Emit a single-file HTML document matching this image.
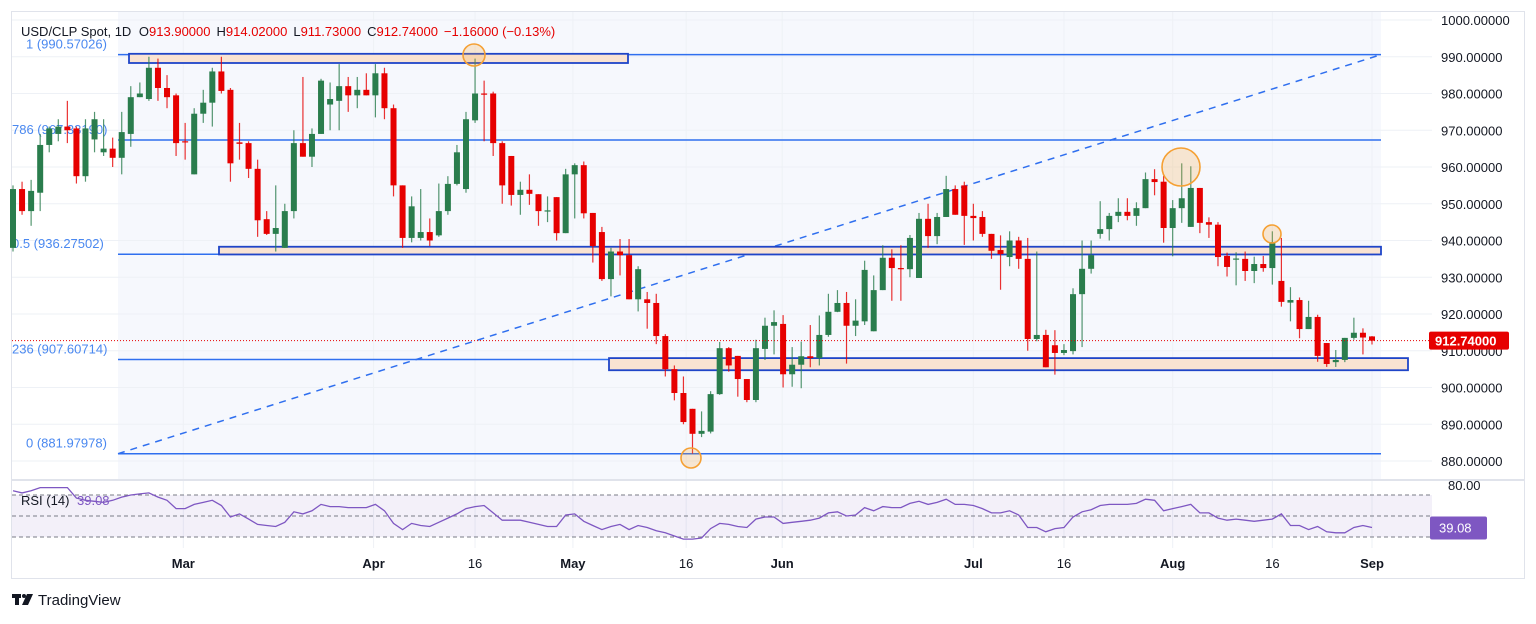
<!DOCTYPE html>
<html>
<head>
<meta charset="utf-8">
<style>
  html,body{margin:0;padding:0;background:#fff;}
  body{width:1536px;height:619px;overflow:hidden;font-family:"Liberation Sans",sans-serif;}
  svg text{font-family:"Liberation Sans",sans-serif;}
</style>
</head>
<body>
<svg id="chart" width="1536" height="619" xmlns="http://www.w3.org/2000/svg">
  <rect x="11.5" y="11.5" width="1513" height="567" fill="#fff" stroke="#e0e3eb"/>
  <rect x="118" y="12" width="1263" height="467" fill="#f6f8fd"/>
  <g id="grid"></g>
  <g id="fib"></g>
  <g id="zones"></g>
  <g id="candles"></g>
  <g id="marks"></g>
  <g id="axis"></g>
  <g id="rsi"></g>
  <g id="xaxis"></g>
  <text x="21" y="36" font-size="13" fill="#131722">USD/CLP Spot, 1D <tspan dx="4">O</tspan><tspan fill="#e60000">913.90000</tspan><tspan dx="6">H</tspan><tspan fill="#e60000">914.02000</tspan><tspan dx="6">L</tspan><tspan fill="#e60000">911.73000</tspan><tspan dx="6">C</tspan><tspan fill="#e60000">912.74000</tspan><tspan dx="6" fill="#e60000">−1.16000 (−0.13%)</tspan></text>
  <g>
    <rect x="12" y="594" width="9" height="4" fill="#131722"/>
    <rect x="15" y="594" width="4" height="11" fill="#131722"/>
    <circle cx="24" cy="596" r="2" fill="#131722"/>
    <polygon points="27,594 33,594 28,605 22,605" fill="#131722"/>
    <text x="38" y="605" font-size="15" fill="#131722">TradingView</text>
  </g>
</svg>
<script>
const opens=[938,954,948,953,966,969,971,970.5,957.5,967.5,964,965,962.5,969,979,978.5,987,981.5,979.5,967,958,974.5,977.5,986,981,966.7,966.5,959.5,945.8,941.8,938,948,966.5,962.8,969,977,978,982,979.5,981,979.5,985.5,976,955,940.7,940.7,942.3,941.4,948,955.4,954,972.7,980,980,966.5,963,952.4,953.8,952.6,948,951.8,942,958,960.5,947.5,942.3,929.5,937,936,924,924,923,914,905,898.5,894.2,887.4,888,898.2,910.7,908.6,902.3,896.6,910.5,916.8,917.3,903.6,906.2,908.5,908,914.3,920.6,923,916.8,918,915.3,926.5,935.3,932.5,932.2,929.8,945.9,941.2,946.4,954,955,946.7,946.4,941.8,937.4,935.5,940,935,913.2,914.3,911.5,909.4,909.9,925.4,932.3,941.8,943.1,946.7,947.8,946.7,948.8,956.7,956,943.4,948.8,943.7,954.3,945,944.3,935.8,935,935,931.7,933.6,932.5,929,923.1,923.8,915.9,919.2,912.1,906.9,907.5,913.5,914.9,913.9];
const highs=[955,956,956.5,969,971,973,978,971,973,975,973,968,975,982,983,990,989.5,985,980,972,976,981,987,990,981.5,972,967,962,948,955,950,970,984.5,970.5,984,983,988,984.5,984.5,985.5,988,987,977,955,952,954,946,955.5,957.5,966,975,989.5,983.5,980.5,967,963,956,958,952.6,952,951.8,959.5,961,961.5,947.5,943.7,938,940.4,940.4,933,926,925.5,914.5,906,903,894.2,893.5,899,912.4,911,908.6,902.3,913,919,921,919.7,911,912.5,917,919.6,925.5,926.5,926,924,934.5,930.5,938.7,937.6,938.7,941.5,947.5,950,947.5,957.6,955,956,950,948,941.8,941.4,942.5,941,940.7,937,915.7,915.6,911.8,927,940,940,950.7,947.5,951.5,951.5,950.4,958.5,959.4,957.6,951,961,960.2,954.3,946.3,945,936.7,936.8,937,935.6,935.8,942.5,940.7,927.3,924.5,923.6,919.8,912.1,910.2,913.5,919,916.1,914];
const lows=[937,947,944,948,964,967,966.5,955.5,956,964,963,960,958,965.5,979,978,978,976,963,962,958,972,971,980,956,962,957,941,941.5,937,938,946,962.8,960,969,970,970,975,976,979.5,973.5,973,952,938,939.5,940,938.5,941,947,955,953,972,967,963,950,949.5,947,949.7,944,945,940,942,946,946,934,929,924.8,930.5,924,920.7,916,911.8,903,896.5,890,882,886.5,887.5,898,904.3,897.5,896,896,907.5,909,900,900.2,899.8,905.5,906,913.8,920.5,906.5,914,917,915.3,926.5,923.6,923.6,930,929.8,938,939,946.4,947,938.8,940,941,935,926.6,933,932.3,910,912.6,905.5,903.5,908.8,909,911,931,940.5,940,945,945.5,944,948.8,952.3,939.4,935.7,944.8,943.7,942,940.7,933,930.2,927.8,929,928.4,931.5,928,922,918,913.4,915.9,907,905.6,905.6,906.9,913,909,911.7];
const closes=[954,948,953.5,966,970.5,971,970,957.5,970.5,973,965,962.5,969.5,979,980,987,981.5,979,966.5,966.7,974.5,977.5,986,980.7,961,966.3,959.5,945.5,941.8,943.4,948,966.5,962.8,969,983.5,978.5,982,979.5,981,979.5,985.5,976,955,940.7,949.3,942.3,940,948,955.4,964,973,980,979.8,966.5,955,952.4,953.8,952.7,948,948.2,942,958,960.5,947.4,938.5,929.5,937,936,924,932.2,923,914,905,898.5,890.6,887.4,888.2,898.2,910.7,906,902.3,896.6,910.7,916.8,917.8,903.6,906.2,908.5,908,914.3,920.6,923,916.8,918.2,932,926.5,935.3,932.5,932.3,940.7,945.9,941.2,946.4,954,947,946.7,946.1,941.8,937.2,936.3,940,935,913.2,914.3,905.5,909.4,910.2,925.4,932.3,936,943.1,946.7,947.8,946.7,948.8,956.7,955.9,943.4,948.8,951.5,954.3,944.8,944.3,935.5,932.8,935.1,931.7,933.6,932.5,939.6,923.3,923.8,915.9,919.2,908.6,906.4,907.5,913.5,914.9,913.6,912.74];
const rsiValues=[74,72,74,77,77,77,77,67,65,64,63,65,68,70,71,72,68,65,57,57,61,63,65,60,49,52,47,42,41,40,44,54,52,55,61,59,59,58,58,58,61,55,43,37,43,41,40,44,48,52,57,59,60,53,46,46,46,44,42,40,40,51,52,45,41,37,40,42,37,41,39,36,34,31,28,28,29,38,43,42,40,39,47,49,49,43,44,45,46,48,53,54,50,51,58,55,59,58,58,62,64,61,63,66,61,61,60,57,53,53,55,51,39,39,35,38,39,49,54,56,60,61,61,61,62,66,65,55,57,59,61,53,53,48,46,47,46,45,46,47,52,41,41,37,40,35,34,34,39,41,39];
const priceTicks=[1000,990,980,970,960,950,940,930,920,910,900,890,880];
const timeLabels=['Mar','Apr','16','May','16','Jun','Jul','16','Aug','16','Sep'];
const timeIdx=[18.8,39.8,51,61.8,74.3,84.9,106,116,128,139,150];
const timeBold=[true,true,false,true,false,true,true,false,true,false,true];
const fibLevels=[1,0.786,0.5,0.236,0];
const fibPrices=[990.57026,967.3319,936.27502,907.60714,881.97978];
const fibText=['1 (990.57026)','786 (967.33190)','0.5 (936.27502)','236 (907.60714)','0 (881.97978)'];
const lastPrice=912.74;
const lastRsi=39.08;

const NS='http://www.w3.org/2000/svg';
function yP(p){return 20+(1000-p)*3.675;}
function xI(i){return 13+i*9.06;}
function yR(r){return 516-(r-50)*1.05;}
function mk(tag,attrs,parent){const e=document.createElementNS(NS,tag);for(const k in attrs)e.setAttribute(k,attrs[k]);parent.appendChild(e);return e;}

const grid=document.getElementById('grid');
priceTicks.forEach(p=>{
  const l=mk('line',{x1:12,x2:1432,y1:yP(p),y2:yP(p),stroke:'#eef1f6','stroke-width':1},grid);
  
  
});
timeIdx.forEach(i=>{
  const l=mk('line',{x1:xI(i),x2:xI(i),y1:12,y2:548,stroke:'#eef1f6','stroke-width':1},grid);
  
  
});
const sep=mk('line',{x1:12,x2:1524,y1:480,y2:480,stroke:'#e0e3eb','stroke-width':2},grid);



const fib=document.getElementById('fib');
fibPrices.forEach((p,k)=>{
  const l=mk('line',{x1:118,x2:1381,y1:yP(p),y2:yP(p),stroke:'#2f6fef','stroke-width':1.5},fib);
  
  
  const t=mk('text',{x:(k===0||k===4)?26:12,y:yP(p)-6,'font-size':13,fill:'#4a88f0'},fib);
  t.textContent=fibText[k];
  
  
});
const diag=mk('line',{x1:118,y1:yP(fibPrices[4]),x2:1381,y2:yP(fibPrices[0]),stroke:'#2f6fef','stroke-width':1.5,'stroke-dasharray':'7,6'},fib);



const zones=document.getElementById('zones');
[[129,628,990.8,988.3],[219,1381,938.3,936.2],[609,1408,908,904.7]].forEach(z=>{
  const r=mk('rect',{x:z[0],y:yP(z[2]),width:z[1]-z[0],height:yP(z[3])-yP(z[2]),fill:'#f9e3d2',stroke:'#1f45c8','stroke-width':1.8},zones);
  
  
});

const cg=document.getElementById('candles');
closes.forEach((c,i)=>{
  const o=opens[i],h=highs[i],l=lows[i];
  const up=c>=o;const col=up?'#2a7d4d':'#e60000';
  const x=xI(i);
  const g=mk('g',{},cg);
  
  
  mk('line',{x1:x,x2:x,y1:yP(h),y2:yP(l),stroke:col,'stroke-width':1.2,opacity:0.8},g);
  const top=yP(Math.max(o,c)),bot=yP(Math.min(o,c));
  mk('rect',{x:x-3,y:top,width:6,height:Math.max(1.2,bot-top),fill:col},g);
});
const pl=mk('line',{x1:12,x2:1432,y1:yP(lastPrice),y2:yP(lastPrice),stroke:'#e60000','stroke-width':1,'stroke-dasharray':'1,2'},cg);



const marks=document.getElementById('marks');
[[474,55,11],[691,458,10],[1181,167,19],[1272,234,9]].forEach(c=>{
  const e=mk('circle',{cx:c[0],cy:c[1],r:c[2],fill:'rgba(247,166,55,0.22)',stroke:'#f5a033','stroke-width':1.6},marks);
  
  
});

const ax=document.getElementById('axis');
priceTicks.forEach(p=>{
  const t=mk('text',{x:1441,y:yP(p)+5,'font-size':13,fill:'#131722'},ax);
  t.textContent=p.toFixed(5);
  
  
});
const lb=mk('rect',{x:1429,y:yP(lastPrice)-9,width:80,height:18,rx:2,fill:'#e60000'},ax);


const lt=mk('text',{x:1435,y:yP(lastPrice)+5,'font-size':13,'font-weight':'bold',fill:'#fff'},ax);
lt.textContent=lastPrice.toFixed(5);



const rg=document.getElementById('rsi');
const band=mk('rect',{x:12,y:yR(70),width:1420,height:yR(30)-yR(70),fill:'#7e57c2','fill-opacity':0.09},rg);


[70,50,30].forEach(v=>{
  const l=mk('line',{x1:12,x2:1432,y1:yR(v),y2:yR(v),stroke:'#787b86','stroke-width':1,'stroke-dasharray':'4,3'},rg);
  
  
});
const pts=rsiValues.map((r,i)=>xI(i).toFixed(1)+','+yR(r).toFixed(1)).join(' ');
const rl=mk('polyline',{points:pts,fill:'none',stroke:'#7e57c2','stroke-width':1.3},rg);


const rt=mk('text',{x:21,y:505,'font-size':13,fill:'#131722'},rg);
rt.textContent='RSI (14)';


const rv=mk('text',{x:77,y:505,'font-size':13,fill:'#7e57c2'},rg);
rv.textContent=lastRsi.toFixed(2);


const r80=mk('text',{x:1448,y:490,'font-size':13,fill:'#131722'},rg);
r80.textContent='80.00';


const rb=mk('rect',{x:1430,y:yR(lastRsi)-11,width:57,height:23,rx:2,fill:'#7e57c2'},rg);


const rbt=mk('text',{x:1439,y:yR(lastRsi)+5,'font-size':13,fill:'#fff'},rg);
rbt.textContent=lastRsi.toFixed(2);



const xa=document.getElementById('xaxis');
timeLabels.forEach((s,k)=>{
  const t=mk('text',{x:xI(timeIdx[k]),y:568,'font-size':13,'text-anchor':'middle',fill:'#131722','font-weight':timeBold[k]?'bold':'normal'},xa);
  t.textContent=s;
  
  
});
</script>
</body>
</html>
